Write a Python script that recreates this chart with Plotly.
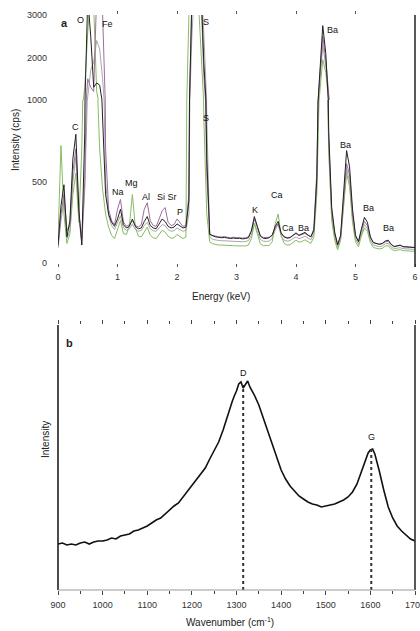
import plotly.graph_objects as go

# ---------------- (a) EDS spectra ----------------
ENERGY_KEV = [round(i * 0.05, 2) for i in range(121)]

EDS_BLACK = [
    110, 350, 480, 160, 260, 640, 790, 330, 110, 800,
    3400, 2500, 1300, 1400, 1350, 900, 420, 300, 250, 225,
    270, 330, 235, 215, 225, 270, 225, 210, 215, 255,
    285, 230, 215, 210, 240, 270, 255, 225, 215, 220,
    240, 225, 215, 220, 380, 3400, 4000, 4000, 3800, 1900,
    650, 175, 165, 160, 158, 155, 157, 152, 150, 153,
    150, 152, 148, 150, 155, 195, 285, 225, 165, 152,
    150, 155, 170, 225, 255, 185, 160, 152, 155, 170,
    185, 170, 178, 188, 172, 160, 200, 520, 1700, 2750,
    2100, 800, 340, 190, 110, 170, 420, 690, 590, 330,
    170, 130, 210, 280, 250, 160, 125, 120, 115, 120,
    135, 140, 115, 100, 105, 110, 100, 98, 100, 95,
    95,
]
EDS_PURPLE = [
    100, 300, 420, 200, 230, 560, 700, 300, 150, 500,
    1500, 1300, 1200, 3500, 4000, 3000, 700, 330, 260, 235,
    330, 390, 250, 225, 235, 260, 230, 220, 235, 330,
    370, 260, 230, 225, 270, 320, 340, 250, 230, 235,
    270, 250, 225, 230, 420, 3300, 4000, 4000, 3700, 1600,
    550, 180, 168, 165, 160, 160, 162, 157, 155, 158,
    155, 156, 153, 155, 160, 200, 270, 220, 168, 156,
    155, 158, 172, 215, 240, 180, 162, 156, 158, 168,
    180, 168, 175, 182, 170, 162, 210, 560, 1550, 2500,
    1950, 760, 320, 180, 115, 165, 380, 610, 540, 300,
    165, 135, 200, 255, 230, 155, 125, 118, 115, 118,
    130, 132, 112, 102, 104, 108, 100, 97, 98, 96,
    95,
]
EDS_GRAY = [
    90, 260, 380, 150, 200, 500, 650, 280, 120, 450,
    1100, 1700, 1900, 2400, 2200, 1500, 500, 290, 230, 205,
    250, 290, 215, 200, 210, 240, 205, 195, 200, 230,
    250, 210, 198, 195, 215, 235, 230, 205, 195, 198,
    215, 205, 195, 200, 300, 2500, 3800, 4000, 3900, 2600,
    900, 160, 145, 140, 138, 137, 136, 134, 132, 133,
    132, 133, 130, 132, 137, 170, 245, 195, 145, 134,
    132, 135, 150, 200, 240, 165, 140, 134, 137, 150,
    160, 150, 155, 165, 152, 142, 180, 480, 1400, 2300,
    1800, 720, 290, 160, 95, 150, 360, 580, 500, 280,
    150, 115, 180, 235, 210, 140, 110, 104, 100, 104,
    118, 120, 98, 88, 90, 94, 88, 85, 86, 84,
    84,
]
EDS_GREEN = [
    150, 720, 300, 120, 180, 420, 550, 250, 700, 1300,
    2600, 3500, 3200, 1200, 700, 450, 300, 220, 170, 150,
    200, 260, 180, 175, 230, 420, 220, 165, 160, 190,
    220, 170, 155, 150, 175, 200, 190, 165, 152, 155,
    175, 160, 150, 160, 3000, 4000, 4000, 3600, 2400, 900,
    300, 130, 118, 112, 110, 110, 108, 106, 105, 106,
    105, 106, 103, 105, 110, 150, 240, 175, 118, 106,
    105, 108, 130, 240, 300, 170, 120, 110, 112, 125,
    140, 128, 132, 142, 130, 120, 160, 420, 1200, 1950,
    1650, 680, 260, 140, 80, 140, 340, 550, 470, 250,
    130, 100, 165, 215, 195, 125, 95, 90, 86, 90,
    104, 106, 85, 76, 78, 82, 76, 73, 74, 72,
    72,
]

EDS_LABELS = ["O", "Fe", "C", "Na", "Mg", "Al", "Si Sr", "P", "S", "S",
              "K", "Ca", "Ca", "Ba", "Ba", "Ba", "Ba", "Ba"]
EDS_LABEL_E = [0.38, 0.84, 0.29, 1.01, 1.24, 1.48, 1.83, 2.05, 2.48, 2.49,
               3.31, 3.68, 3.87, 4.12, 4.62, 4.84, 5.21, 5.55]
EDS_LABEL_C = [2880, 2780, 834, 435, 490, 405, 405, 313, 2830, 890,
               325, 417, 215, 215, 2650, 724, 337, 215]

# ---------------- (b) Raman spectrum ----------------
RAMAN_WN = [900, 910, 920, 930, 940, 950, 960, 970, 980, 990,
            1000, 1010, 1020, 1030, 1040, 1050, 1060, 1070, 1080, 1090,
            1100, 1110, 1120, 1130, 1140, 1150, 1160, 1170, 1180, 1190,
            1200, 1210, 1220, 1230, 1240, 1250, 1260, 1270, 1280, 1290,
            1295, 1300, 1305, 1310, 1315, 1320, 1325, 1330, 1335, 1340,
            1350, 1360, 1370, 1380, 1390, 1400, 1410, 1420, 1430, 1440,
            1450, 1460, 1470, 1480, 1490, 1500, 1510, 1520, 1530, 1540,
            1550, 1560, 1570, 1580, 1585, 1590, 1595, 1600, 1605, 1610,
            1615, 1620, 1630, 1640, 1650, 1660, 1670, 1680, 1690, 1700]
RAMAN_INT = [46, 47, 45, 46, 45, 47, 48, 46, 48, 49,
             49, 50, 52, 51, 54, 55, 56, 59, 60, 62,
             64, 67, 70, 72, 76, 79, 84, 87, 93, 98,
             104, 110, 116, 122, 131, 139, 148, 160, 175, 188,
             194, 199, 206, 208, 202, 205, 209, 203, 199, 195,
             185, 172, 158, 144, 131, 120, 111, 104, 99, 94,
             91, 88, 86, 85, 83, 84, 85, 86, 88, 90,
             93, 98, 106, 119, 126, 132, 137, 140, 141, 136,
             128, 119, 100, 83, 72, 64, 59, 55, 51, 49]
RAMAN_PEAK_NAMES = ["D", "G"]
RAMAN_PEAK_POS = [1315, 1602]
RAMAN_PEAK_INT = [205, 141]

FONT = "Liberation Sans, Arial, sans-serif"
XDOM = [58 / 420, 415 / 420]


def py(pix):
    return 1 - pix / 631


fig = go.Figure()

series = [(EDS_GRAY, "#a8a8a8"), (EDS_GREEN, "#86bd62"),
          (EDS_PURPLE, "#a06c9f"), (EDS_BLACK, "#222222")]
for vals, col in series:
    for xa, ya in (("x", "y"), ("x2", "y2")):
        fig.add_trace(go.Scatter(x=ENERGY_KEV, y=vals, mode="lines",
                                 line=dict(color=col, width=1),
                                 xaxis=xa, yaxis=ya, showlegend=False,
                                 hoverinfo="skip"))

# Raman
fig.add_trace(go.Scatter(x=RAMAN_WN, y=RAMAN_INT, mode="lines",
                         line=dict(color="#111111", width=1.6),
                         xaxis="x3", yaxis="y3", showlegend=False))
for pos, val in zip(RAMAN_PEAK_POS, RAMAN_PEAK_INT):
    fig.add_trace(go.Scatter(x=[pos, pos], y=[0, val], mode="lines",
                             line=dict(color="#333333", width=2, dash="dot"),
                             xaxis="x3", yaxis="y3", showlegend=False))

annotations = []
for t, e, c in zip(EDS_LABELS, EDS_LABEL_E, EDS_LABEL_C):
    upper = c > 1000
    annotations.append(dict(text=t, x=e, y=c, xref="x2" if not upper else "x",
                            yref="y" if upper else "y2", showarrow=False,
                            xanchor="center", yanchor="middle",
                            font=dict(family=FONT, size=9, color="#111")))
for t, p, v in zip(RAMAN_PEAK_NAMES, RAMAN_PEAK_POS, RAMAN_PEAK_INT):
    annotations.append(dict(text=t, x=p, y=v + 12, xref="x3", yref="y3",
                            showarrow=False, xanchor="center",
                            yanchor="middle",
                            font=dict(family=FONT, size=9, color="#111")))

extra = [
    ("<b>a</b>", 64, 23, 0, 11),
    ("<b>b</b>", 69, 343, 0, 11),
    ("Intensity (cps)", 15, 140, -90, 10),
    ("Energy (keV)", 221, 296, 0, 10),
    ("Intensity", 45, 440, -90, 10),
    ("Wavenumber (cm<sup>-1</sup>)", 230, 622, 0, 10),
]
for t, xp, yp, ang, fs in extra:
    annotations.append(dict(text=t, x=xp / 420, y=py(yp), xref="paper",
                            yref="paper", textangle=ang, showarrow=False,
                            xanchor="center", yanchor="middle",
                            font=dict(family=FONT, size=fs, color="#222")))

shapes = [
    dict(type="line", xref="paper", yref="paper", x0=XDOM[1], x1=XDOM[1],
         y0=py(267), y1=py(15), line=dict(color="#222", width=1.5)),
    dict(type="line", xref="paper", yref="paper", x0=XDOM[0], x1=XDOM[0],
         y0=py(590), y1=py(325), line=dict(color="#111", width=1.5)),
    dict(type="line", xref="paper", yref="paper", x0=XDOM[1], x1=XDOM[1],
         y0=py(590), y1=py(325), line=dict(color="#222", width=1.5)),
    dict(type="line", xref="paper", yref="paper", x0=XDOM[0], x1=XDOM[1],
         y0=py(590), y1=py(590), line=dict(color="#999", width=1)),
]

tickfont = dict(family=FONT, size=9, color="#333")
common = dict(showgrid=False, zeroline=False, tickfont=tickfont,
              automargin=False)

fig.update_layout(
    width=420, height=631,
    margin=dict(l=0, r=0, t=0, b=0, autoexpand=False),
    paper_bgcolor="white", plot_bgcolor="white",
    showlegend=False,
    xaxis=dict(domain=XDOM, anchor="y", matches="x2", range=[0, 6],
               side="top", tickvals=[1, 2, 3, 4, 5], ticks="outside",
               ticklen=3, tickcolor="#555", showticklabels=False, **common),
    yaxis=dict(domain=[py(100), py(15)], anchor="x", range=[1000, 3000],
               tickvals=[1000, 2000, 3000], ticks="", ticklabelstandoff=10,
               **common),
    xaxis2=dict(domain=XDOM, anchor="y2", range=[0, 6],
                tickvals=[0, 1, 2, 3, 4, 5, 6], ticks="outside", ticklen=3,
                tickcolor="#555", ticklabelstandoff=2, **common),
    yaxis2=dict(domain=[py(263), py(100)], anchor="x2", range=[0, 1000],
                tickvals=[0, 500], ticks="", ticklabelstandoff=10, **common),
    xaxis3=dict(domain=XDOM, anchor="y3", range=[900, 1700],
                tickvals=list(range(900, 1701, 100)), ticks="outside",
                ticklen=4, tickcolor="#444", mirror="ticks",
                minor=dict(ticks="outside", ticklen=3, dtick=50,
                           tick0=900, tickcolor="#444"),
                ticklabelstandoff=2, ticklabeloverflow="allow", **common),
    yaxis3=dict(domain=[py(590), py(325)], anchor="x3", range=[0, 265],
                showticklabels=False, ticks="", **common),
    annotations=annotations,
    shapes=shapes,
)

fig.write_html(
    "out.html",
    config={"displayModeBar": False},
    post_script="document.body.style.margin='0';document.body.style.padding='0';",
)
